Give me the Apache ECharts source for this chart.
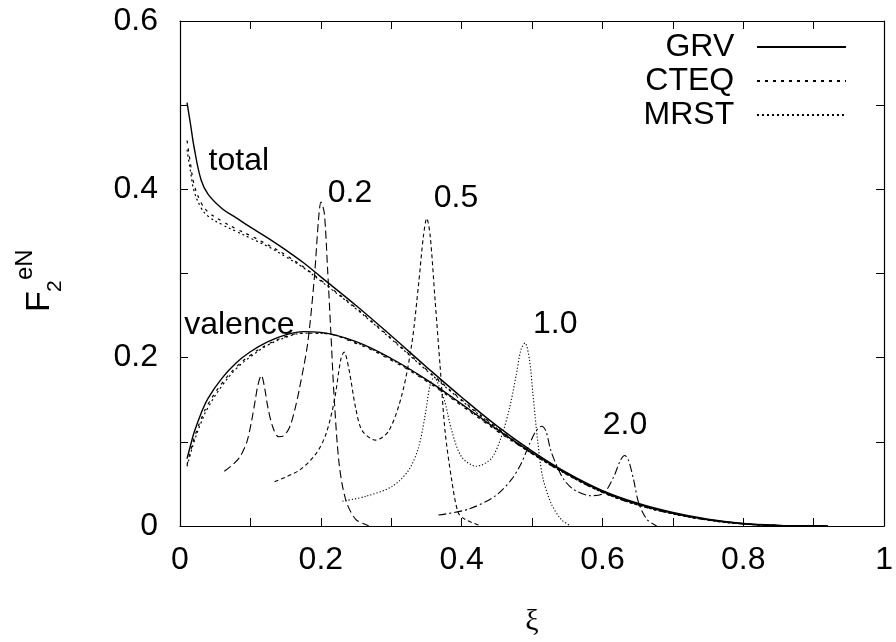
<!DOCTYPE html>
<html>
<head>
<meta charset="utf-8">
<script src="https://cdn.jsdelivr.net/npm/echarts@6/dist/echarts.min.js"></script>
<style>
html,body{margin:0;padding:0;background:#fff;}
#chart{width:896px;height:642px;}
</style>
</head>
<body>
<div id="chart"></div>
<script>
// ---- data ----
const xi = [0.01,0.015,0.02,0.03,0.04,0.06,0.08,0.1,0.125,0.15,0.175,0.2,0.25,0.3,0.35,0.4,0.45,0.5,0.55,0.6,0.65,0.7,0.75,0.8,0.85,0.9,0.92];
const grvTotal  = [0.503,0.477,0.450,0.411,0.394,0.377,0.366,0.355,0.342,0.328,0.313,0.296,0.262,0.226,0.189,0.153,0.119,0.089,0.063,0.042,0.027,0.016,0.008,0.003,0.0008,0.0001,0.0];
const grvVal    = [0.080,0.096,0.111,0.134,0.152,0.176,0.194,0.207,0.219,0.227,0.231,0.230,0.219,0.199,0.174,0.145,0.115,0.087,0.062,0.041,0.026,0.015,0.0075,0.0027,0.0007,0.0001,0.0];
const cteqTotal = [0.458,0.430,0.406,0.384,0.373,0.362,0.353,0.345,0.334,0.322,0.308,0.292,0.259,0.223,0.186,0.150,0.117,0.087,0.062,0.041,0.026,0.015,0.0075,0.0027,0.0007,0.0001,0.0];
const mrstTotal = [0.447,0.421,0.398,0.378,0.368,0.358,0.350,0.342,0.332,0.320,0.307,0.291,0.258,0.222,0.185,0.149,0.116,0.086,0.061,0.040,0.025,0.0145,0.007,0.0025,0.0006,0.0001,0.0];
const cteqVal   = [0.073,0.089,0.104,0.127,0.145,0.170,0.189,0.203,0.216,0.225,0.229,0.229,0.217,0.197,0.172,0.143,0.113,0.086,0.061,0.040,0.025,0.0145,0.007,0.0025,0.0006,0.0001,0.0];
const mrstVal   = [0.071,0.086,0.100,0.123,0.141,0.167,0.187,0.201,0.215,0.224,0.229,0.229,0.218,0.198,0.173,0.144,0.114,0.086,0.061,0.040,0.025,0.0145,0.007,0.0024,0.0006,0.0001,0.0];

// resonance curves for Q^2 = 0.2, 0.5, 1.0, 2.0 : [xi, F2]
const q02 = [[0.063,0.065],[0.075,0.073],[0.085,0.082],[0.095,0.100],[0.1015,0.124],[0.107,0.150],[0.1108,0.168],[0.1156,0.179],[0.120,0.165],[0.125,0.140],[0.132,0.117],[0.140,0.106],[0.147,0.107],[0.1555,0.117],[0.163,0.138],[0.1696,0.163],[0.1813,0.217],[0.1908,0.295],[0.1968,0.365],[0.2002,0.385],[0.2049,0.372],[0.2095,0.307],[0.2143,0.229],[0.219,0.152],[0.226,0.074],[0.2354,0.031],[0.2495,0.008],[0.268,0.0003]];
const q05 = [[0.1344,0.0527],[0.1696,0.0663],[0.193,0.0857],[0.2072,0.109],[0.219,0.148],[0.2284,0.198],[0.233,0.2066],[0.240,0.186],[0.2495,0.140],[0.2589,0.113],[0.2777,0.102],[0.2965,0.113],[0.3152,0.156],[0.3293,0.217],[0.3388,0.287],[0.3458,0.345],[0.3505,0.3655],[0.3553,0.345],[0.3623,0.268],[0.3694,0.190],[0.3764,0.113],[0.3858,0.055],[0.395,0.016],[0.4046,0.008],[0.428,0.0]];
const q10 = [[0.2307,0.0294],[0.2636,0.0352],[0.3011,0.0469],[0.3247,0.0663],[0.3388,0.0934],[0.3482,0.132],[0.3553,0.168],[0.361,0.177],[0.368,0.166],[0.376,0.148],[0.386,0.113],[0.400,0.082],[0.421,0.071],[0.442,0.080],[0.456,0.105],[0.468,0.140],[0.4774,0.179],[0.4844,0.210],[0.490,0.2174],[0.4963,0.198],[0.501,0.159],[0.508,0.101],[0.515,0.0585],[0.5267,0.0276],[0.541,0.0081],[0.555,0.0]];
const q20 = [[0.367,0.013],[0.409,0.0198],[0.447,0.0352],[0.4703,0.0547],[0.4844,0.074],[0.4963,0.0973],[0.5056,0.1128],[0.5136,0.1186],[0.5197,0.1128],[0.5267,0.0895],[0.536,0.070],[0.5456,0.0547],[0.5597,0.043],[0.583,0.036],[0.602,0.0392],[0.616,0.0585],[0.6254,0.0779],[0.6316,0.0837],[0.637,0.0779],[0.6443,0.0547],[0.6514,0.0276],[0.663,0.0081],[0.677,0.0]];

// annotations
const annoText = ['total','valence','0.2','0.5','1.0','2.0'];
const annoX    = [0.0836,0.0843,0.2415,0.392,0.533,0.632];
const annoY    = [0.433,0.2384,0.395,0.3895,0.240,0.1198];

const legendNames = ['GRV','CTEQ','MRST'];
const xTicks = {min:0, max:1, step:0.2};
const yTicks = {min:0, max:0.6, step:0.2};

// ---- chart ----
const FONT = 'Liberation Sans, Helvetica, Arial, sans-serif';
const pair = (ys) => xi.map((x,i)=>[x, ys[i]]);
const chart = echarts.init(document.getElementById('chart'), null, {renderer:'canvas'});

const lineSeries = (name, data, type, width, smooth) => ({
  name, type:'line', data, showSymbol:false, symbol:'none', smooth:smooth,
  lineStyle:{color:'#000', width, type}, itemStyle:{color:'#000'}, silent:true, z:3
});

function axisCommon(showLabel, margin){
  return {
    axisLine:{show:true, onZero:false, lineStyle:{color:'#000', width:1.2}},
    axisTick:{show:true, inside:true, length:8, lineStyle:{color:'#000', width:1}},
    minorTick:{show:true, splitNumber:2, length:8, lineStyle:{color:'#000', width:1}},
    splitLine:{show:false},
    axisLabel:{show:showLabel, color:'#000', fontSize:32, fontFamily:FONT, margin:margin}
  };
}

const option = {
  backgroundColor:'#fff',
  animation:false,
  textStyle:{fontFamily:FONT, color:'#000'},
  grid:{left:180, right:7, top:21, bottom:105, containLabel:false},
  legend:{
    data:legendNames, orient:'vertical', align:'right', right:49, top:31, padding:0,
    itemWidth:89, itemHeight:14, itemGap:2, selectedMode:false,
    itemStyle:{opacity:0},
    textStyle:{fontSize:32, color:'#000', fontFamily:FONT},
    formatter: n => n + '  '
  },
  xAxis:[
    Object.assign(axisCommon(true, 18), {type:'value', position:'bottom', min:xTicks.min, max:xTicks.max, interval:xTicks.step,
      name:'ξ', nameLocation:'middle', nameGap:81,
      nameTextStyle:{fontFamily:'Liberation Serif, Times New Roman, serif', fontSize:30, color:'#000'}}),
    Object.assign(axisCommon(false, 8), {type:'value', position:'top', min:xTicks.min, max:xTicks.max, interval:xTicks.step})
  ],
  yAxis:[
    Object.assign(axisCommon(true, 22), {type:'value', position:'left', min:yTicks.min, max:yTicks.max, interval:yTicks.step}),
    Object.assign(axisCommon(false, 8), {type:'value', position:'right', min:yTicks.min, max:yTicks.max, interval:yTicks.step})
  ],
  series:[
    lineSeries('GRV', pair(grvTotal), 'solid', 1.4, 0.4),
    lineSeries('GRV', pair(grvVal), 'solid', 1.4, 0.4),
    lineSeries('CTEQ', pair(cteqTotal), [3,5], 1.2, 0.4),
    lineSeries('CTEQ', pair(cteqVal), [3,5], 1.2, 0.4),
    lineSeries('MRST', pair(mrstTotal), [2,3], 1.2, 0.4),
    lineSeries('MRST', pair(mrstVal), [2,3], 1.2, 0.4),
    lineSeries('Q2=0.2', q02, [8,4], 1.1, 0.3),
    lineSeries('Q2=0.5', q05, [4,3], 1.1, 0.3),
    lineSeries('Q2=1.0', q10, [1.2,2], 1.1, 0.3),
    lineSeries('Q2=2.0', q20, [8,3,2,3], 1.1, 0.3),
    {
      name:'annotations', type:'custom', silent:true, z:5,
      data: annoText.map((t,i)=>[annoX[i], annoY[i], i]),
      encode:{x:0, y:1},
      renderItem: function(params, api){
        const pt = api.coord([api.value(0), api.value(1)]);
        return {type:'text', x:pt[0], y:pt[1],
          style:{text:annoText[api.value(2)], fontSize:32, fontFamily:FONT, fill:'#000', align:'center', verticalAlign:'middle'}};
      }
    }
  ],
  graphic:[{
    type:'group', x:52, y:312, rotation:Math.PI/2, silent:true,
    children:[
      {type:'text', x:0, y:-12, style:{text:'F', fontSize:34, fontFamily:FONT, fill:'#000', align:'left', verticalAlign:'middle'}},
      {type:'text', x:20, y:3, style:{text:'2', fontSize:21, fontFamily:FONT, fill:'#000', align:'left', verticalAlign:'middle'}},
      {type:'text', x:32, y:-27, style:{text:'eN', fontSize:24, fontFamily:FONT, fill:'#000', align:'left', verticalAlign:'middle'}}
    ]
  }]
};
chart.setOption(option);
</script>
</body>
</html>
